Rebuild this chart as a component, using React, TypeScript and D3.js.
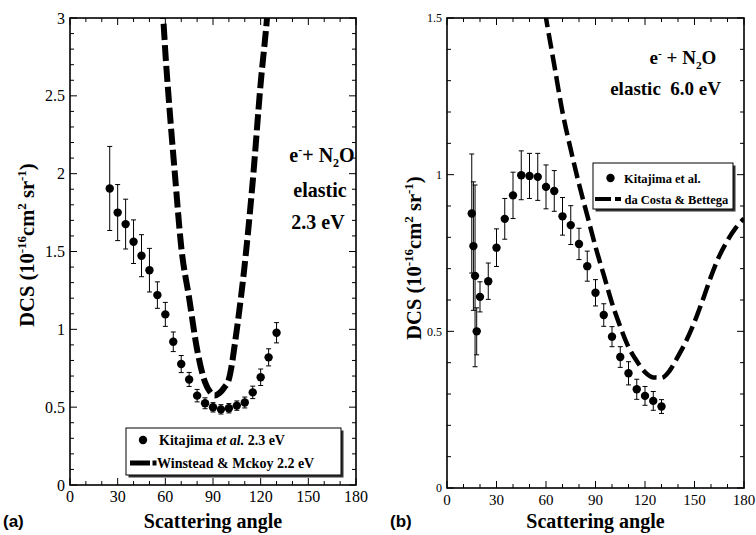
import React from "react";
import * as d3 from "d3";

// ---- panel (a): e- + N2O elastic 2.3 eV ----
const anglesA = [25, 30, 35, 40, 45, 50, 55, 60, 65, 70, 75, 80, 85, 90, 95, 100, 105, 110, 115, 120, 125, 130];
const dcsA = [1.905, 1.75, 1.676, 1.563, 1.473, 1.38, 1.22, 1.096, 0.92, 0.777, 0.678, 0.574, 0.525, 0.499, 0.486, 0.493, 0.51, 0.53, 0.595, 0.692, 0.82, 0.978];
const errA = [0.27, 0.18, 0.16, 0.14, 0.135, 0.14, 0.085, 0.077, 0.063, 0.055, 0.045, 0.04, 0.035, 0.03, 0.03, 0.03, 0.03, 0.035, 0.04, 0.053, 0.055, 0.065];

// Winstead & Mckoy 2.2 eV
const theoryAngA = [55, 58.7, 60, 62, 66, 70, 75, 80, 85, 88, 91, 94, 97, 100, 105, 110, 115, 120, 124, 127];
const theoryDcsA = [3.5, 3.0, 2.78, 2.5, 2.0, 1.53, 1.2, 0.87, 0.66, 0.6, 0.575, 0.59, 0.625, 0.68, 1.0, 1.42, 1.95, 2.58, 3.0, 3.4];

// ---- panel (b): e- + N2O elastic 6.0 eV ----
const anglesB = [15, 16, 17, 18, 20, 25, 30, 35, 40, 45, 50, 55, 60, 65, 70, 75, 80, 85, 90, 95, 100, 105, 110, 115, 120, 125, 130];
const dcsB = [0.876, 0.772, 0.677, 0.5, 0.61, 0.66, 0.767, 0.859, 0.934, 0.998, 0.996, 0.993, 0.961, 0.948, 0.867, 0.839, 0.779, 0.708, 0.623, 0.552, 0.483, 0.418, 0.366, 0.315, 0.294, 0.278, 0.26];
const errB = [0.19, 0.205, 0.29, 0.075, 0.048, 0.058, 0.06, 0.065, 0.074, 0.078, 0.072, 0.075, 0.07, 0.065, 0.06, 0.062, 0.05, 0.048, 0.042, 0.036, 0.032, 0.033, 0.037, 0.032, 0.03, 0.03, 0.022];

// da Costa & Bettega
const theoryAngB = [55, 60, 65, 70, 75, 80, 85, 90, 95, 100, 105, 110, 115, 120, 125, 130, 135, 140, 145, 150, 155, 160, 165, 170, 175, 180];
const theoryDcsB = [1.66, 1.5, 1.35, 1.2, 1.08, 0.97, 0.87, 0.77, 0.68, 0.59, 0.515, 0.45, 0.405, 0.37, 0.353, 0.352, 0.375, 0.42, 0.47, 0.53, 0.6, 0.675, 0.74, 0.79, 0.83, 0.86];

const xTicks = [0, 30, 60, 90, 120, 150, 180];
const yTicksA = [0, 0.5, 1, 1.5, 2, 2.5, 3];
const yTicksB = [0, 0.5, 1, 1.5];

const serif = "Liberation Serif, DejaVu Serif, serif";
const sans = "Liberation Sans, DejaVu Sans, sans-serif";

type PanelProps = {
  id: string;
  left: number;
  right: number;
  top: number;
  bottom: number;
  yMax: number;
  yTicks: number[];
  xFont: number;
  yFont: number;
  angles: number[];
  dcs: number[];
  err: number[];
  thAng: number[];
  thDcs: number[];
  dashWidth: number;
  dash: string;
};

function Panel(p: PanelProps) {
  const x = d3.scaleLinear().domain([0, 180]).range([p.left, p.right]);
  const y = d3.scaleLinear().domain([0, p.yMax]).range([p.bottom, p.top]);
  const minorX = d3.range(0, 181, 10);
  const minorY = d3.range(0, p.yMax + 0.001, 0.1);
  const line = d3
    .line<number>()
    .x((_, i) => x(p.thAng[i]))
    .y((d) => y(d))
    .curve(d3.curveMonotoneX);

  return (
    <g>
      <defs>
        <clipPath id={p.id}>
          <rect x={p.left} y={p.top} width={p.right - p.left} height={p.bottom - p.top} />
        </clipPath>
      </defs>
      {/* theory curve */}
      <path
        d={line(p.thDcs) || ""}
        fill="none"
        stroke="#000"
        strokeWidth={p.dashWidth}
        strokeDasharray={p.dash}
        clipPath={`url(#${p.id})`}
      />
      {/* error bars and points */}
      {p.angles.map((a, i) => {
        const cx = x(a);
        const y1 = y(p.dcs[i] - p.err[i]);
        const y2 = y(p.dcs[i] + p.err[i]);
        return (
          <g key={i}>
            <line x1={cx} x2={cx} y1={y1} y2={y2} stroke="#000" strokeWidth={1} />
            <line x1={cx - 2.5} x2={cx + 2.5} y1={y1} y2={y1} stroke="#000" strokeWidth={1} />
            <line x1={cx - 2.5} x2={cx + 2.5} y1={y2} y2={y2} stroke="#000" strokeWidth={1} />
            <circle cx={cx} cy={y(p.dcs[i])} r={4.2} fill="#000" />
          </g>
        );
      })}
      {/* ticks, inward on all four sides */}
      {minorX.map((t) => {
        const len = t % 30 === 0 ? 7 : 4;
        return (
          <g key={"x" + t} stroke="#000" strokeWidth={1}>
            <line x1={x(t)} x2={x(t)} y1={p.bottom} y2={p.bottom - len} />
            <line x1={x(t)} x2={x(t)} y1={p.top} y2={p.top + len} />
          </g>
        );
      })}
      {minorY.map((t, i) => {
        const len = i % 5 === 0 ? 7 : 4;
        return (
          <g key={"y" + i} stroke="#000" strokeWidth={1}>
            <line x1={p.left} x2={p.left + len} y1={y(t)} y2={y(t)} />
            <line x1={p.right} x2={p.right - len} y1={y(t)} y2={y(t)} />
          </g>
        );
      })}
      <rect
        x={p.left}
        y={p.top}
        width={p.right - p.left}
        height={p.bottom - p.top}
        fill="none"
        stroke="#000"
        strokeWidth={1.6}
      />
      {xTicks.map((t) => (
        <text key={"xl" + t} x={x(t)} y={p.bottom + 17} textAnchor="middle" style={{ fontFamily: serif }} fontSize={p.xFont}>
          {t}
        </text>
      ))}
      {p.yTicks.map((t) => (
        <text
          key={"yl" + t}
          x={p.left - 5}
          y={y(t)}
          dy="0.35em"
          textAnchor="end"
          style={{ fontFamily: serif }}
          fontSize={p.yFont}
        >
          {t}
        </text>
      ))}
      <text
        x={(p.left + p.right) / 2}
        y={528}
        textAnchor="middle"
        style={{ fontFamily: serif }}
        fontWeight="bold"
        fontSize={20}
      >
        Scattering angle
      </text>
    </g>
  );
}

function YTitle({ cx, cy }: { cx: number; cy: number }) {
  return (
    <text
      transform={`translate(${cx},${cy}) rotate(-90)`}
      textAnchor="middle"
      dy="0.35em"
      style={{ fontFamily: serif }}
      fontWeight="bold"
      fontSize={20.5}
    >
      DCS (10
      <tspan fontSize={13} dy={-8}>-16</tspan>
      <tspan dy={8}>cm</tspan>
      <tspan fontSize={13} dy={-8}>2</tspan>
      <tspan dy={8}> sr</tspan>
      <tspan fontSize={13} dy={-8}>-1</tspan>
      <tspan dy={8}>)</tspan>
    </text>
  );
}

function Reaction({ x, y, size, gap }: { x: number; y: number; size: number; gap: string }) {
  return (
    <text
      x={x}
      y={y}
      textAnchor="middle"
      style={{ fontFamily: serif, whiteSpace: "pre" }}
      fontWeight="bold"
      fontSize={size}
    >
      e
      <tspan fontSize={size * 0.6} dy={-size * 0.38}>-</tspan>
      <tspan dy={size * 0.38}>{gap + "+ N"}</tspan>
      <tspan fontSize={size * 0.6} dy={size * 0.25}>2</tspan>
      <tspan dy={-size * 0.25}>O</tspan>
    </text>
  );
}

export default function App() {
  return (
    <svg
      width={756}
      height={535}
      viewBox="0 0 756 535"
      style={{ position: "absolute", left: 0, top: 0, background: "#fff" }}
    >
      <rect width={756} height={535} fill="#fff" />
      <Panel
        id="clipA"
        left={70}
        right={356}
        top={18}
        bottom={485}
        yMax={3}
        yTicks={yTicksA}
        xFont={16}
        yFont={16}
        angles={anglesA}
        dcs={dcsA}
        err={errA}
        thAng={theoryAngA}
        thDcs={theoryDcsA}
        dashWidth={6}
        dash="16,5"
      />
      <Panel
        id="clipB"
        left={447}
        right={744}
        top={18}
        bottom={488}
        yMax={1.5}
        yTicks={yTicksB}
        xFont={15}
        yFont={12}
        angles={anglesB}
        dcs={dcsB}
        err={errB}
        thAng={theoryAngB}
        thDcs={theoryDcsB}
        dashWidth={4.5}
        dash="16,6"
      />

      <YTitle cx={27} cy={245} />
      <YTitle cx={414} cy={258} />

      {/* panel (a) annotation */}
      <Reaction x={322} y={162} size={20} gap="" />
      <text x={320} y={197} textAnchor="middle" style={{ fontFamily: serif }} fontWeight="bold" fontSize={20}>
        elastic
      </text>
      <text x={318} y={229} textAnchor="middle" style={{ fontFamily: serif }} fontWeight="bold" fontSize={20}>
        2.3 eV
      </text>

      {/* panel (b) annotation */}
      <Reaction x={683} y={64} size={19} gap=" " />
      <text x={721} y={95} textAnchor="end" style={{ fontFamily: serif, whiteSpace: "pre" }} fontWeight="bold" fontSize={19}>
        elastic  6.0 eV
      </text>

      {/* legend (a) */}
      <rect x={128.5} y={430.5} width={215} height={47} fill="#333" />
      <rect x={126} y={428} width={215} height={47} fill="#fff" stroke="#000" strokeWidth={1} />
      <circle cx={143} cy={440} r={4.2} fill="#000" />
      <text x={159} y={444.5} style={{ fontFamily: serif }} fontWeight="bold" fontSize={14}>
        Kitajima <tspan fontStyle="italic">et al.</tspan> 2.3 eV
      </text>
      <line x1={130} x2={150} y1={463} y2={463} stroke="#000" strokeWidth={5} />
      <line x1={152.5} x2={156.5} y1={463} y2={463} stroke="#000" strokeWidth={5} />
      <text x={157} y={468} style={{ fontFamily: serif }} fontWeight="bold" fontSize={14}>
        Winstead &amp; Mckoy 2.2 eV
      </text>

      {/* legend (b) */}
      <rect x={595.5} y={165.5} width={140} height={46} fill="#333" />
      <rect x={593} y={163} width={140} height={46} fill="#fff" stroke="#000" strokeWidth={1} />
      <circle cx={610.5} cy={178} r={4.2} fill="#000" />
      <text x={624} y={182.5} style={{ fontFamily: serif }} fontWeight="bold" fontSize={12.5}>
        Kitajima et al.
      </text>
      <line x1={595} x2={611} y1={199} y2={199} stroke="#000" strokeWidth={4} />
      <line x1={615} x2={621} y1={199} y2={199} stroke="#000" strokeWidth={4} />
      <text x={624.5} y={203.5} style={{ fontFamily: serif }} fontWeight="bold" fontSize={12.5}>
        da Costa &amp; Bettega
      </text>

      <text x={3} y={527} style={{ fontFamily: sans }} fontWeight="bold" fontSize={17}>
        (a)
      </text>
      <text x={390} y={527} style={{ fontFamily: sans }} fontWeight="bold" fontSize={17}>
        (b)
      </text>
    </svg>
  );
}
